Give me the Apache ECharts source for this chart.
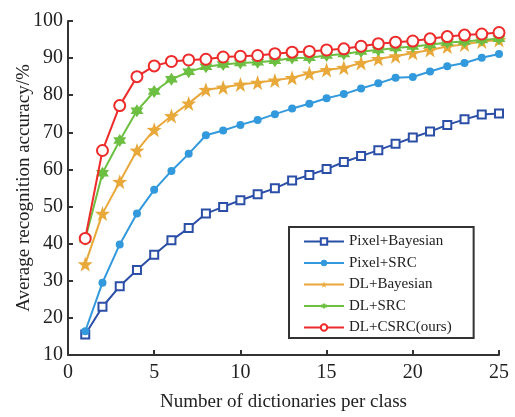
<!DOCTYPE html>
<html><head><meta charset="utf-8">
<script src="https://cdn.jsdelivr.net/npm/echarts@6/dist/echarts.min.js"></script>
<style>html,body{margin:0;padding:0;background:#fff}#c{width:515px;height:417px}</style>
</head><body><div id="c"></div>
<script>
var xs = [1,2,3,4,5,6,7,8,9,10,11,12,13,14,15,16,17,18,19,20,21,22,23,24,25];
var pixelBayesian = [15.5,23.0,28.5,32.9,37.0,40.9,44.2,48.1,49.9,51.7,53.3,54.9,57.0,58.5,60.1,62.0,63.6,65.2,66.9,68.6,70.2,72.0,73.5,74.8,75.1];
var pixelSRC = [16.4,29.5,39.8,48.1,54.5,59.6,64.2,69.2,70.5,72.0,73.3,74.9,76.4,77.7,79.2,80.3,81.8,83.2,84.7,84.9,86.4,87.8,88.7,90.1,91.1];
var dlBayesian = [34.5,48.1,56.7,65.1,70.7,74.4,77.8,81.5,82.1,82.9,83.4,84.0,84.7,85.9,86.8,87.4,88.7,89.8,90.5,91.4,92.2,93.1,93.7,94.5,94.9];
var dlSRC = [41.2,59.0,67.8,75.8,81.0,84.3,86.3,87.7,88.3,88.7,88.9,89.3,90.0,90.1,90.7,91.1,91.8,92.2,92.7,93.1,93.6,94.2,94.5,94.9,95.2];
var dlCSRC = [41.4,65.1,77.2,85.0,87.9,89.1,89.5,89.7,90.3,90.5,90.7,91.2,91.6,91.8,92.2,92.5,93.2,93.9,94.3,94.6,95.2,95.8,96.2,96.5,96.9];
var names = ['Pixel+Bayesian','Pixel+SRC','DL+Bayesian','DL+SRC','DL+CSRC(ours)'];
var colors = ['#2b4ea6','#3399dd','#e8a83a','#6cbf40','#ee2b2b'];

var starPath = 'path://M0,-10 L2.35,-3.24 9.51,-3.09 3.8,1.24 5.88,8.09 0,4 -5.88,8.09 -3.8,1.24 -9.51,-3.09 -2.35,-3.24Z';
var hexPath = 'path://M0,-10 L2.89,-5 8.66,-5 5.77,0 8.66,5 2.89,5 0,10 -2.89,5 -8.66,5 -5.77,0 -8.66,-5 -2.89,-5Z';

function pairs(v){ return xs.map(function(x,i){ return [x, v[i]]; }); }
var font = 'Liberation Serif';
var allData = [pixelBayesian, pixelSRC, dlBayesian, dlSRC, dlCSRC];
var symbols = ['emptyRect','circle',starPath,hexPath,'emptyCircle'];
var sizes = [8,8,15,13,11];

var series = allData.map(function(d,i){
  return {
    name: names[i], type:'line', data: pairs(d),
    symbol: symbols[i], symbolSize: sizes[i],
    lineStyle:{color:colors[i], width:2},
    itemStyle:{color: colors[i], borderWidth: i===0?2.5:(i===4?2:0)},
    z: 2+i
  };
});

var chart = echarts.init(document.getElementById('c'), null, {renderer:'canvas'});
chart.setOption({
  animation:false,
  backgroundColor:'#fff',
  grid:{left:68, right:16, top:21, bottom:56, containLabel:false},
  xAxis:{type:'value', min:0, max:25, interval:5,
    name:'Number of dictionaries per class', nameLocation:'middle', nameGap:38, nameMoveOverlap:false,
    nameTextStyle:{fontFamily:font, fontSize:19, color:'#222'},
    axisLine:{lineStyle:{color:'#333', width:2}},
    axisTick:{inside:true, length:5, lineStyle:{color:'#333', width:2}},
    axisLabel:{fontFamily:font, fontSize:20, color:'#222', margin:8},
    splitLine:{show:false}},
  yAxis:{type:'value', min:10, max:100, interval:10,
    name:'Average recognition accuracy/%', nameLocation:'middle', nameGap:34, nameMoveOverlap:false,
    nameTextStyle:{fontFamily:font, fontSize:19, color:'#222'},
    axisLine:{show:true, lineStyle:{color:'#333', width:2}},
    axisTick:{show:true, inside:true, length:5, lineStyle:{color:'#333', width:2}},
    axisLabel:{fontFamily:font, fontSize:20, color:'#222', margin:5},
    splitLine:{show:false}},
  legend:{orient:'vertical', left:289, top:227, data:names,
    itemWidth:40, itemHeight:8, itemGap:6.5, itemTextGap:4,
    padding:[7,22,3,14], borderColor:'#333', borderWidth:2, backgroundColor:'#fff',
    textStyle:{fontFamily:font, fontSize:15, color:'#222'}},
  series: series
});
</script></body></html>
